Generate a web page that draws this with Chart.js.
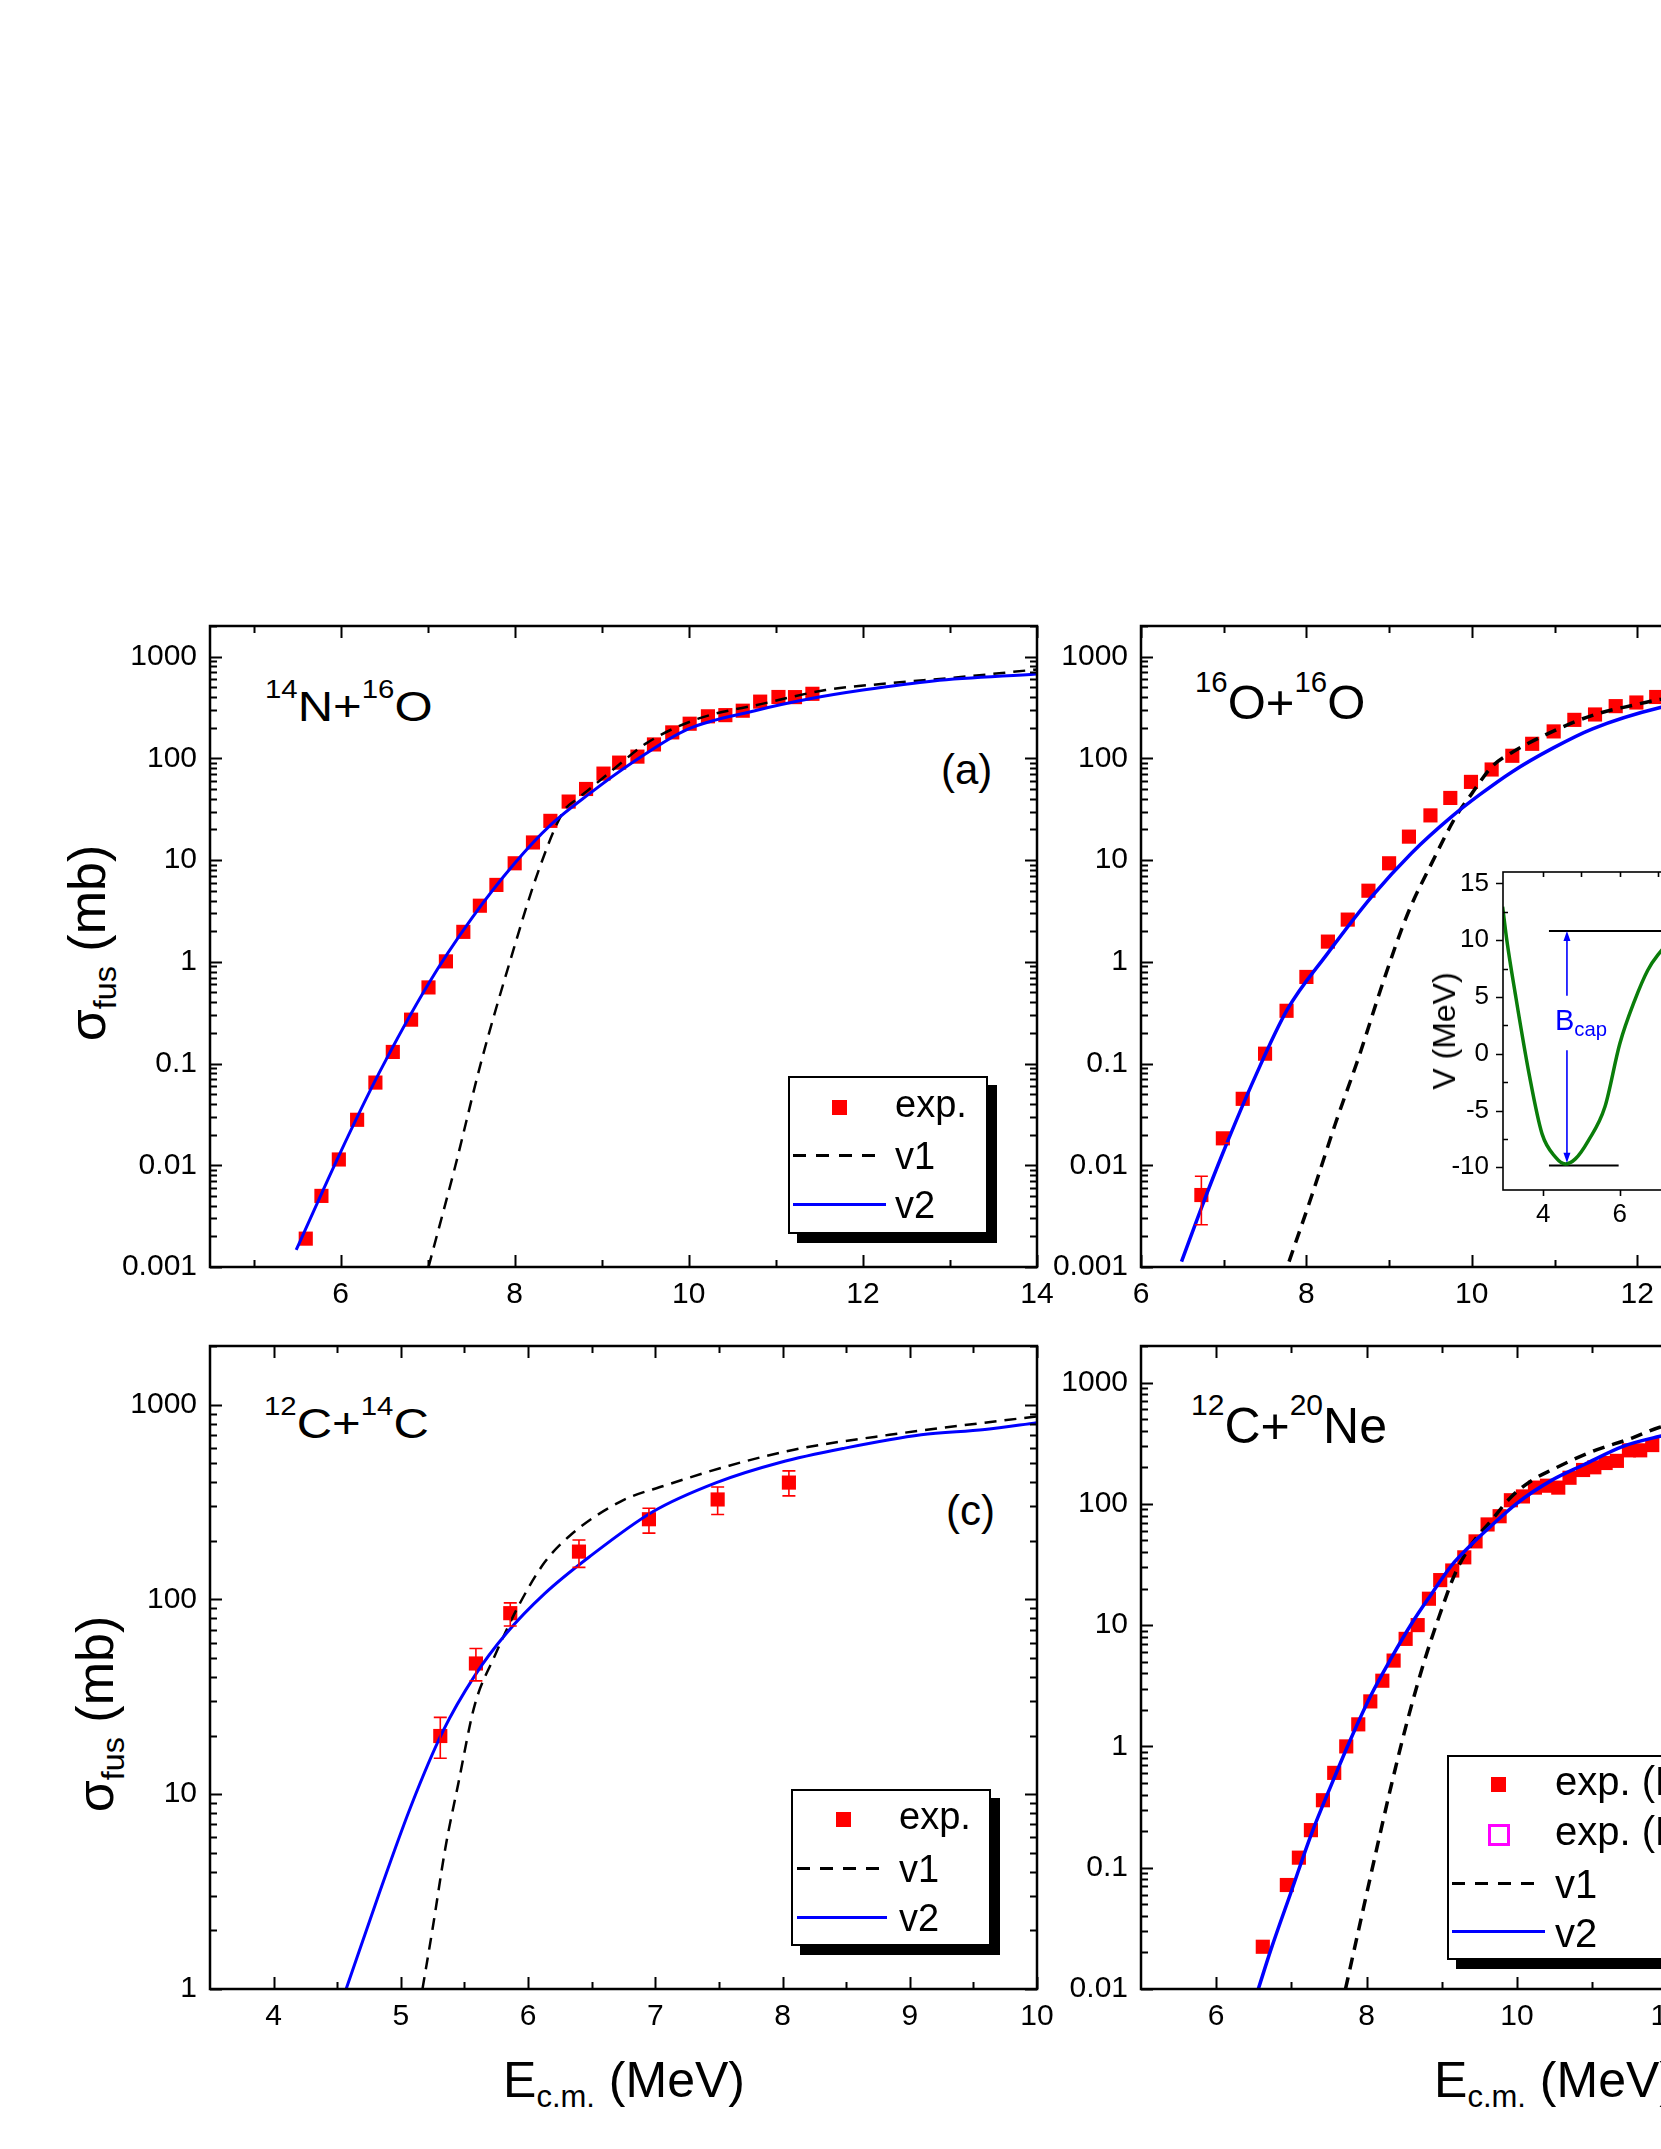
<!DOCTYPE html>
<html>
<head>
<meta charset="utf-8">
<script src="https://cdn.jsdelivr.net/npm/chart.js@4.4.1/dist/chart.umd.min.js"></script>
<style>
html, body { margin: 0; padding: 0; background: #fff; width: 1661px; height: 2149px; overflow: hidden; }
body { position: relative; font-family: 'Liberation Sans', Arial, sans-serif; color: #000; }
canvas { position: absolute; }
.t { position: absolute; white-space: nowrap; line-height: 1; }
.t sup { font-size: 0.6em; vertical-align: baseline; position: relative; top: -0.92em; line-height: 0; }
.t sub { font-size: 0.62em; vertical-align: baseline; position: relative; top: 0.33em; line-height: 0; }
.rot { transform: translate(-50%, -50%) rotate(-90deg); }
.sq { transform: scaleY(0.86); transform-origin: 0 84.6%; }
.leg { position: absolute; box-sizing: border-box; border: 2px solid #000; background: #fff; box-shadow: 9px 9px 0 #000; }
.sym { position: absolute; }
</style>
</head>
<body>

<script>
// ---------- Daten ----------
// (a) 14N+16O
const eExpA = [5.60, 5.78, 5.98, 6.19, 6.40, 6.60, 6.81, 7.01, 7.21, 7.41, 7.60, 7.79, 8.00, 8.21, 8.41, 8.62, 8.82, 9.02, 9.20, 9.41, 9.60, 9.81, 10.01, 10.22, 10.42, 10.62, 10.82, 11.03, 11.22, 11.42];
const sExpA = [0.0019, 0.005, 0.0114, 0.028, 0.065, 0.13, 0.27, 0.56, 1.01, 1.97, 3.56, 5.7, 9.3, 14.9, 24.3, 37.6, 50, 70.8, 90.8, 104, 137, 180, 219, 259, 266, 294, 361, 401, 400, 431];
const eV1A = [7.01, 7.32, 7.61, 7.94, 8.27, 8.56, 8.71, 8.86, 9.15, 9.52, 10.1, 10.84, 11.57, 12.3, 13.03, 14.0];
const sV1A = [0.001, 0.01, 0.1, 0.97, 7.7, 30, 39.5, 50, 80, 142, 244, 343, 469, 547, 619, 748];
const eV2A = [5.49, 5.98, 6.44, 7.01, 7.50, 8.0, 8.42, 8.86, 9.37, 9.99, 10.76, 11.42, 12.0, 12.81, 14.0];
const sV2A = [0.00147, 0.0124, 0.08, 0.61, 2.63, 9.3, 22.4, 45, 93, 194, 294, 389, 469, 577, 674];

// (b) 16O+16O
const eExpB = [6.73, 6.99, 7.23, 7.50, 7.76, 8.00, 8.26, 8.50, 8.75, 9.00, 9.24, 9.50, 9.74, 9.99, 10.24, 10.49, 10.73, 10.99, 11.24, 11.49, 11.74, 11.99, 12.23];
const sExpB = [0.0051, 0.0184, 0.045, 0.125, 0.33, 0.71, 1.58, 2.6, 5.0, 9.3, 17, 27.5, 40.8, 58.7, 77.7, 106, 139, 184, 239, 270, 326, 354, 401];
const errLoB = [0.0026, 0.0165];
const errHiB = [0.0078, 0.0205];
const eV1B = [7.79, 8.06, 8.35, 8.64, 8.93, 9.22, 9.52, 9.81, 10.0, 10.25, 10.49, 10.98, 11.46, 11.95, 12.28, 13, 14, 16];
const sV1B = [0.00113, 0.0049, 0.0256, 0.12, 0.64, 2.9, 9.5, 27, 45, 84, 115, 184, 265, 333, 380, 450, 540, 680];
const eV2B = [6.49, 6.74, 6.99, 7.38, 7.77, 8.25, 8.79, 9.27, 9.76, 10.10, 10.49, 10.98, 11.46, 12.28, 13, 14, 16];
const sV2B = [0.00113, 0.004, 0.0132, 0.074, 0.34, 1.19, 4.37, 11.7, 26.9, 44.2, 74, 126, 195, 316, 400, 500, 640];

// Inset (b): Potential V(r)
const rPot = [2.94, 3.05, 3.27, 3.63, 3.97, 4.32, 4.58, 4.84, 5.18, 5.61, 6.0, 6.39, 6.73, 6.99, 7.5, 8, 9, 10, 12];
const vPot = [12.94, 10.0, 5.29, -1.76, -7.06, -9.1, -9.7, -9.26, -7.65, -4.7, 0.88, 4.7, 7.35, 8.68, 10.4, 10.8, 10.4, 9.6, 8.2];
const barrierX = [4.15, 12];
const barrierV = 10.8;
const wellX = [4.15, 5.97];
const wellV = -9.85;
const bcapR = 4.62;

// (c) 12C+14C
const eExpC = [5.31, 5.59, 5.86, 6.40, 6.95, 7.49, 8.05];
const sExpC = [19.9, 46.9, 85, 176, 258, 326, 398];
const errLoC = [15.3, 38.2, 73, 146, 219, 273, 340];
const errHiC = [24.8, 56, 96, 202, 294, 378, 457];
const eV1C = [5.17, 5.25, 5.35, 5.45, 5.58, 5.73, 5.93, 6.13, 6.33, 6.73, 7.08, 7.58, 8.09, 8.84, 10.0];
const sV1C = [1, 2.05, 5.3, 11.2, 28.6, 50, 94, 155, 213, 319, 385, 486, 587, 700, 871];
const eV2C = [4.57, 4.83, 5.08, 5.33, 5.58, 5.83, 6.13, 6.48, 6.98, 7.48, 7.98, 8.49, 9.09, 9.59, 10.0];
const sV2C = [1, 3.1, 8.7, 21, 40.5, 67, 107, 165, 282, 398, 505, 598, 700, 745, 808];

// (d) 12C+20Ne
const eExpD = [6.62, 6.94, 7.10, 7.26, 7.42, 7.57, 7.73, 7.89, 8.05, 8.21, 8.36, 8.52, 8.68, 8.83, 8.98, 9.14, 9.30, 9.45, 9.61, 9.77, 9.92, 10.08, 10.24, 10.40, 10.55, 10.70, 10.88, 11.03, 11.18, 11.33, 11.49, 11.64, 11.80];
const sExpD = [0.0223, 0.072, 0.121, 0.204, 0.36, 0.605, 1.0, 1.52, 2.35, 3.48, 5.1, 7.7, 10, 16.5, 23.5, 28.2, 36.2, 49, 67.6, 79, 107, 115, 136, 141, 136, 164, 190, 200, 217, 226, 276, 276, 305];
const eV1D = [7.72, 7.90, 8.12, 8.33, 8.54, 8.76, 8.97, 9.18, 9.40, 9.66, 9.93, 10.20, 10.46, 11.0, 11.53, 11.89, 12.5, 14, 16];
const sV1D = [0.01, 0.0318, 0.13, 0.48, 1.6, 4.85, 12, 26.8, 46.6, 73, 115, 156, 190, 270, 348, 426, 500, 650, 800];
const eV2D = [6.56, 6.73, 7.0, 7.26, 7.53, 7.80, 8.06, 8.33, 8.60, 8.86, 9.13, 9.40, 9.66, 10.0, 10.46, 10.89, 11.42, 11.89, 12.5, 14, 16];
const sV2D = [0.01, 0.0213, 0.064, 0.185, 0.48, 1.19, 2.65, 5.36, 10.3, 17.9, 31, 46.6, 66, 101, 156, 210, 299, 359, 430, 560, 700];

// Achsen-Ticks
const xTicksA = [5, 6, 7, 8, 9, 10, 11, 12, 13, 14];
const xLabelsA = [6, 8, 10, 12, 14];
const xTicksB = [7, 8, 9, 10, 11, 12, 13, 14, 15, 16];
const xLabelsB = [6, 8, 10, 12, 14, 16];
const xTicksC = [4, 4.5, 5, 5.5, 6, 6.5, 7, 7.5, 8, 8.5, 9, 9.5, 10];
const xLabelsC = [4, 5, 6, 7, 8, 9, 10];
const xTicksD = [6, 7, 8, 9, 10, 11, 12, 13, 14, 15, 16];
const xLabelsD = [6, 8, 10, 12, 14, 16];
const yLabelsAB = [0.001, 0.01, 0.1, 1, 10, 100, 1000];
const yLabelsC = [1, 10, 100, 1000];
const yLabelsD = [0.01, 0.1, 1, 10, 100, 1000];
const xTicksIn = [4, 5, 6, 7, 8, 9, 10, 11, 12];
const xLabelsIn = [4, 6, 8, 10, 12];
const yTicksIn = [-10, -7.5, -5, -2.5, 0, 2.5, 5, 7.5, 10, 12.5, 15];
const yLabelsIn = [-10, -5, 0, 5, 10, 15];
</script>

<!-- Beschriftungen -->
<div class="t sq" style="left:265px;top:680px;font-size:49px"><sup>14</sup>N+<sup>16</sup>O</div>
<div class="t" style="left:1195px;top:678px;font-size:49px"><sup>16</sup>O+<sup>16</sup>O</div>
<div class="t sq" style="left:264px;top:1397px;font-size:49px"><sup>12</sup>C+<sup>14</sup>C</div>
<div class="t" style="left:1191px;top:1401px;font-size:50px"><sup>12</sup>C+<sup>20</sup>Ne</div>
<div class="t" style="left:941px;top:749px;font-size:42px">(a)</div>
<div class="t" style="left:946px;top:1490px;font-size:42px">(c)</div>

<div class="t rot" style="left:87px;top:943px;font-size:52px">σ<sub>fus</sub>&nbsp;(mb)</div>
<div class="t rot" style="left:95px;top:1714px;font-size:52px">σ<sub>fus</sub>&nbsp;(mb)</div>
<div class="t" style="left:624px;top:2055px;font-size:50px;transform:translateX(-50%)">E<sub>c.m.</sub> (MeV)</div>
<div class="t" style="left:1555px;top:2055px;font-size:50px;transform:translateX(-50%)">E<sub>c.m.</sub> (MeV)</div>

<script>
Chart.defaults.font.family = "'Liberation Sans', Arial, sans-serif";
Chart.defaults.color = '#000';

function pts(xs, ys) {
    return xs.map((x, i) => ({ x: x, y: ys[i] }));
}

function logTicks(min, max) {
    const out = [];
    for (let k = Math.floor(Math.log10(min)); k <= Math.ceil(Math.log10(max)); k++) {
        for (let m = 1; m <= 9; m++) {
            const v = Number((m * Math.pow(10, k)).toPrecision(3));
            if (v >= min * 0.999 && v <= max * 1.001) out.push(v);
        }
    }
    return out;
}

// Rahmen und nach innen zeigende Ticks
const frameTicks = {
    id: 'frameTicks',
    afterDraw(chart, args, opts) {
        const { ctx, chartArea: a, scales } = chart;
        const x = scales.x, y = scales.y;
        ctx.save();
        ctx.strokeStyle = '#000';
        ctx.lineWidth = opts.tickWidth || 2;
        ctx.beginPath();
        if (opts.inset) {
            x.ticks.forEach(t => {
                const px = Math.round(x.getPixelForValue(t.value)) + 0.5;
                if (px < a.left + 1) return;
                ctx.moveTo(px, a.top); ctx.lineTo(px, a.top + 5);
                if (t.label) { ctx.moveTo(px, a.bottom); ctx.lineTo(px, a.bottom + 6); }
            });
            y.ticks.forEach(t => {
                const py = Math.round(y.getPixelForValue(t.value)) + 0.5;
                if (t.label) { ctx.moveTo(a.left, py); ctx.lineTo(a.left - 7, py); }
                else { ctx.moveTo(a.left, py); ctx.lineTo(a.left + 5, py); }
            });
        } else {
            x.ticks.forEach(t => {
                const px = Math.round(x.getPixelForValue(t.value)) + 0.5;
                const len = t.label ? opts.major : opts.minor;
                ctx.moveTo(px, a.bottom); ctx.lineTo(px, a.bottom - len);
                ctx.moveTo(px, a.top); ctx.lineTo(px, a.top + len);
            });
            y.ticks.forEach(t => {
                const py = Math.round(y.getPixelForValue(t.value)) + 0.5;
                const len = t.label ? opts.major : opts.minor;
                ctx.moveTo(a.left, py); ctx.lineTo(a.left + len, py);
                ctx.moveTo(a.right, py); ctx.lineTo(a.right - len, py);
            });
        }
        ctx.stroke();
        ctx.lineWidth = opts.frameWidth || 2.5;
        ctx.strokeRect(a.left, a.top, a.right - a.left, a.bottom - a.top);
        ctx.restore();
    }
};

// Fehlerbalken
const errorBars = {
    id: 'errorBars',
    afterDatasetsDraw(chart, args, opts) {
        if (!opts || !opts.x) return;
        const { ctx, scales } = chart;
        ctx.save();
        ctx.strokeStyle = '#ff0000';
        ctx.lineWidth = 1.6;
        ctx.beginPath();
        opts.lo.forEach((lo, i) => {
            if (lo == null) return;
            const px = scales.x.getPixelForValue(opts.x[i]);
            const y1 = scales.y.getPixelForValue(lo);
            const y2 = scales.y.getPixelForValue(opts.hi[i]);
            ctx.moveTo(px, y1); ctx.lineTo(px, y2);
            ctx.moveTo(px - 6.5, y1); ctx.lineTo(px + 6.5, y1);
            ctx.moveTo(px - 6.5, y2); ctx.lineTo(px + 6.5, y2);
        });
        ctx.stroke();
        ctx.restore();
    }
};

// Doppelpfeil B_cap im Inset
const capArrow = {
    id: 'capArrow',
    afterDatasetsDraw(chart, args, opts) {
        if (!opts || opts.x == null) return;
        const { ctx, scales } = chart;
        const px = scales.x.getPixelForValue(opts.x);
        const yTop = scales.y.getPixelForValue(opts.top);
        const yBot = scales.y.getPixelForValue(opts.bottom);
        const g1 = scales.y.getPixelForValue(opts.gapTop);
        const g2 = scales.y.getPixelForValue(opts.gapBottom);
        ctx.save();
        ctx.strokeStyle = '#0000ff';
        ctx.fillStyle = '#0000ff';
        ctx.lineWidth = 1.6;
        ctx.beginPath();
        ctx.moveTo(px, yTop + 6); ctx.lineTo(px, g1);
        ctx.moveTo(px, g2); ctx.lineTo(px, yBot - 6);
        ctx.stroke();
        ctx.beginPath();
        ctx.moveTo(px, yTop); ctx.lineTo(px - 3.5, yTop + 10); ctx.lineTo(px + 3.5, yTop + 10); ctx.closePath();
        ctx.moveTo(px, yBot); ctx.lineTo(px - 3.5, yBot - 10); ctx.lineTo(px + 3.5, yBot - 10); ctx.closePath();
        ctx.fill();
        ctx.restore();
    }
};

function expSet(xs, ys) {
    return {
        data: pts(xs, ys), showLine: false, pointStyle: 'rect', pointRadius: 10,
        pointBackgroundColor: '#ff0000', pointBorderWidth: 0, order: 2
    };
}
function v1Set(xs, ys, w) {
    return {
        data: pts(xs, ys), borderColor: '#000', borderWidth: w, borderDash: [12, 8],
        pointRadius: 0, cubicInterpolationMode: 'monotone', fill: false, order: 1
    };
}
function v2Set(xs, ys, w) {
    return {
        data: pts(xs, ys), borderColor: '#0000ff', borderWidth: w,
        pointRadius: 0, cubicInterpolationMode: 'monotone', fill: false, order: 0
    };
}

function makePanel(p) {
    const cv = document.createElement('canvas');
    const W = p.w + 160, H = p.h + 95;
    cv.width = W; cv.height = H;
    cv.style.left = (p.left - 120) + 'px';
    cv.style.top = (p.top - 35) + 'px';
    cv.style.width = W + 'px';
    cv.style.height = H + 'px';
    document.body.appendChild(cv);
    const yTicks = logTicks(p.yMin, p.yMax);
    return new Chart(cv.getContext('2d'), {
        type: 'line',
        data: { datasets: p.datasets },
        options: {
            responsive: false, animation: false, events: [],
            layout: { padding: { left: 0, top: 35, right: 40, bottom: 0 } },
            plugins: {
                legend: { display: false }, tooltip: { enabled: false },
                frameTicks: { major: 12, minor: 7, frameWidth: 2.5, tickWidth: 2 },
                errorBars: p.err || {}
            },
            scales: {
                x: {
                    type: 'linear', min: p.xMin, max: p.xMax,
                    grid: { display: false, drawTicks: false }, border: { display: false },
                    afterBuildTicks: s => { s.ticks = p.xTicks.concat(p.xLabels.filter(v => !p.xTicks.includes(v))).sort((a, b) => a - b).map(v => ({ value: v })); },
                    afterFit: s => { s.height = 60; },
                    ticks: {
                        autoSkip: false, maxRotation: 0, padding: 10, color: '#000', font: { size: 30 },
                        callback: v => p.xLabels.includes(v) ? String(v) : ''
                    }
                },
                y: {
                    type: 'logarithmic', min: p.yMin, max: p.yMax,
                    grid: { display: false, drawTicks: false }, border: { display: false },
                    afterBuildTicks: s => { s.ticks = yTicks.map(v => ({ value: v })); },
                    afterFit: s => { s.width = 120; },
                    ticks: {
                        autoSkip: false, padding: 13, color: '#000', font: { size: 30 },
                        callback: v => p.yLabels.includes(v) ? String(v) : ''
                    }
                }
            }
        },
        plugins: [frameTicks, errorBars]
    });
}

// (a)
makePanel({
    left: 210, top: 626, w: 827, h: 641,
    xMin: 4.5, xMax: 14, xTicks: xTicksA, xLabels: xLabelsA,
    yMin: 0.001, yMax: 2000, yLabels: yLabelsAB,
    datasets: [expSet(eExpA, sExpA), v1Set(eV1A, sV1A, 2.5), v2Set(eV2A, sV2A, 3)]
});
// (b)
makePanel({
    left: 1141, top: 626, w: 827, h: 641,
    xMin: 6, xMax: 16, xTicks: xTicksB, xLabels: xLabelsB,
    yMin: 0.001, yMax: 2000, yLabels: yLabelsAB,
    datasets: [expSet(eExpB, sExpB), v1Set(eV1B, sV1B, 3.5), v2Set(eV2B, sV2B, 3.5)],
    err: { x: eExpB, lo: errLoB, hi: errHiB }
});
// (c)
makePanel({
    left: 210, top: 1346, w: 827, h: 643,
    xMin: 3.5, xMax: 10, xTicks: xTicksC, xLabels: xLabelsC,
    yMin: 1, yMax: 2000, yLabels: yLabelsC,
    datasets: [expSet(eExpC, sExpC), v1Set(eV1C, sV1C, 2.5), v2Set(eV2C, sV2C, 3)],
    err: { x: eExpC, lo: errLoC, hi: errHiC }
});
// (d)
makePanel({
    left: 1141, top: 1346, w: 827, h: 643,
    xMin: 5, xMax: 16, xTicks: xTicksD, xLabels: xLabelsD,
    yMin: 0.01, yMax: 2000, yLabels: yLabelsD,
    datasets: [expSet(eExpD, sExpD), { data: [], showLine: false, pointStyle: 'rect', pointRadius: 10, pointBackgroundColor: 'transparent', pointBorderColor: '#ff00ff', pointBorderWidth: 3 },
        v1Set(eV1D, sV1D, 3.5), v2Set(eV2D, sV2D, 3.5)]
});

// Inset in (b)
(function () {
    const L = 1503, T = 872, W = 350, H = 318;
    const cv = document.createElement('canvas');
    cv.width = W + 90; cv.height = H + 67;
    cv.style.left = (L - 70) + 'px';
    cv.style.top = (T - 32) + 'px';
    cv.style.width = (W + 90) + 'px';
    cv.style.height = (H + 67) + 'px';
    document.body.appendChild(cv);
    new Chart(cv.getContext('2d'), {
        type: 'line',
        data: {
            datasets: [
                { data: pts(rPot, vPot), borderColor: '#0a7d0a', borderWidth: 3.5, pointRadius: 0, cubicInterpolationMode: 'monotone', fill: false },
                { data: pts(barrierX, [barrierV, barrierV]), borderColor: '#000', borderWidth: 2, pointRadius: 0, fill: false },
                { data: pts(wellX, [wellV, wellV]), borderColor: '#000', borderWidth: 2, pointRadius: 0, fill: false }
            ]
        },
        options: {
            responsive: false, animation: false, events: [],
            layout: { padding: { left: 0, top: 32, right: 20, bottom: 0 } },
            plugins: {
                legend: { display: false }, tooltip: { enabled: false },
                frameTicks: { inset: true, frameWidth: 1.6, tickWidth: 1.6 },
                capArrow: { x: bcapR, top: barrierV, bottom: -9.6, gapTop: 5.1, gapBottom: 0.3 }
            },
            scales: {
                x: {
                    type: 'linear', min: 2.95, max: 12,
                    grid: { display: false, drawTicks: false }, border: { display: false },
                    afterBuildTicks: s => { s.ticks = xTicksIn.map(v => ({ value: v })); },
                    afterFit: s => { s.height = 35; },
                    ticks: { autoSkip: false, maxRotation: 0, padding: 9, color: '#000', font: { size: 26 },
                        callback: v => xLabelsIn.includes(v) ? String(v) : '' }
                },
                y: {
                    type: 'linear', min: -12, max: 16,
                    grid: { display: false, drawTicks: false }, border: { display: false },
                    afterBuildTicks: s => { s.ticks = yTicksIn.map(v => ({ value: v })); },
                    afterFit: s => { s.width = 70; },
                    ticks: { autoSkip: false, padding: 14, color: '#000', font: { size: 26 },
                        callback: v => yLabelsIn.includes(v) ? String(v) : '' }
                }
            }
        },
        plugins: [frameTicks, capArrow]
    });
})();
</script>

<!-- Inset-Beschriftung -->
<div class="t rot" style="left:1444px;top:1031px;font-size:32px">V (MeV)</div>
<div class="t" style="left:1555px;top:1006px;font-size:29px;color:#0000ff">B<sub style="font-size:0.7em;top:0.3em">cap</sub></div>

<!-- Legende (a) -->
<div class="leg" style="left:788px;top:1076px;width:200px;height:158px"></div>
<div class="sym" style="left:832px;top:1100px;width:15px;height:15px;background:#ff0000"></div>
<div class="sym" style="left:793px;top:1154px;width:85px;height:2.5px;background:repeating-linear-gradient(to right,#000 0 13px,transparent 13px 23px)"></div>
<div class="sym" style="left:793px;top:1203px;width:93px;height:3px;background:#0000ff"></div>
<div class="t" style="left:895px;top:1085px;font-size:38px">exp.</div>
<div class="t" style="left:895px;top:1137px;font-size:38px">v1</div>
<div class="t" style="left:895px;top:1186px;font-size:38px">v2</div>

<!-- Legende (c) -->
<div class="leg" style="left:791px;top:1789px;width:200px;height:157px"></div>
<div class="sym" style="left:836px;top:1812px;width:15px;height:15px;background:#ff0000"></div>
<div class="sym" style="left:797px;top:1867px;width:90px;height:2.5px;background:repeating-linear-gradient(to right,#000 0 13px,transparent 13px 23px)"></div>
<div class="sym" style="left:797px;top:1916px;width:90px;height:3px;background:#0000ff"></div>
<div class="t" style="left:899px;top:1797px;font-size:38px">exp.</div>
<div class="t" style="left:899px;top:1850px;font-size:38px">v1</div>
<div class="t" style="left:899px;top:1899px;font-size:38px">v2</div>

<!-- Legende (d) -->
<div class="leg" style="left:1447px;top:1755px;width:420px;height:205px"></div>
<div class="sym" style="left:1491px;top:1777px;width:15px;height:15px;background:#ff0000"></div>
<div class="sym" style="left:1488px;top:1824px;width:16px;height:16px;border:3px solid #ff00ff"></div>
<div class="sym" style="left:1452px;top:1882px;width:85px;height:3px;background:repeating-linear-gradient(to right,#000 0 13px,transparent 13px 23px)"></div>
<div class="sym" style="left:1452px;top:1930px;width:93px;height:3px;background:#0000ff"></div>
<div class="t" style="left:1555px;top:1761px;font-size:40px">exp. (Ref. 1)</div>
<div class="t" style="left:1555px;top:1811px;font-size:40px">exp. (Ref. 2)</div>
<div class="t" style="left:1555px;top:1864px;font-size:40px">v1</div>
<div class="t" style="left:1555px;top:1913px;font-size:40px">v2</div>

</body>
</html>
